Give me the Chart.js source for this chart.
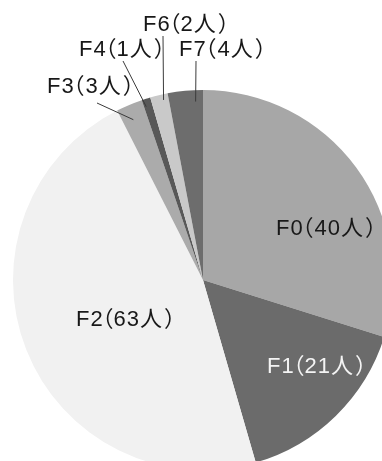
<!DOCTYPE html>
<html>
<head>
<meta charset="utf-8">
<script src="https://cdn.jsdelivr.net/npm/chart.js@4"></script>
<style>
  html, body { margin: 0; padding: 0; background: #fff; overflow: hidden; }
  #wrap { position: relative; width: 400px; height: 480px; }
</style>
</head>
<body>
<div id="wrap"><canvas id="pie"></canvas></div>
<script>
// Patient counts per fibrosis stage
const stages = ['F0', 'F1', 'F2', 'F3', 'F4', 'F6', 'F7'];
const counts = [40, 21, 63, 3, 1, 2, 4];
const unit = '人';

const sliceColors = ['#a7a7a7', '#6b6b6b', '#f1f1f1', '#ababab', '#585858', '#c9c9c9', '#6d6d6d'];

// Label placement: left ink edge and baseline of each label, plus an optional leader line.
// Leader lines run from a point under the label to a point inside the slice,
// given as a fraction along the slice's angle (t) and of the radius (r).
const labelLayout = [
  { x: 277, y: 235, color: '#181818' },
  { x: 268, y: 373, color: '#f4f4f4' },
  { x: 77,  y: 326, color: '#181818' },
  { x: 48,  y: 93,  color: '#181818', from: [97, 103],  t: 0.42, r: 0.92 },
  { x: 80,  y: 56,  color: '#181818', from: [123, 61],  t: 0.25, r: 0.96 },
  { x: 144, y: 31,  color: '#181818', from: [163, 36],  t: 0.70, r: 0.97 },
  { x: 180, y: 56,  color: '#181818', from: [196, 61],  t: 0.78, r: 0.94 }
];

// Draws "F0（40人）" piece by piece so the brackets sit snugly against the text.
function drawLabel(ctx, stage, count, x, baseline) {
  const pieces = [
    { text: stage, gap: 0 },
    { text: '（', gap: 4 },
    { text: count + unit, gap: 2 },
    { text: '）', gap: 3 }
  ];
  let cursor = x;
  pieces.forEach(p => {
    const m = ctx.measureText(p.text);
    const drawX = cursor + p.gap + m.actualBoundingBoxLeft;
    ctx.fillText(p.text, drawX, baseline);
    cursor = drawX + m.actualBoundingBoxRight;
  });
}

const sliceLabels = {
  id: 'sliceLabels',
  afterDatasetsDraw(chart) {
    const ctx = chart.ctx;
    const arcs = chart.getDatasetMeta(0).data;
    ctx.save();
    ctx.font = '22px "Liberation Sans", "Noto Sans CJK JP", sans-serif';
    ctx.letterSpacing = '1px';
    ctx.textAlign = 'left';
    ctx.textBaseline = 'alphabetic';
    arcs.forEach((arc, i) => {
      const lay = labelLayout[i];
      if (lay.from) {
        const { x, y, startAngle, endAngle, outerRadius } = arc.getProps(['x', 'y', 'startAngle', 'endAngle', 'outerRadius'], true);
        const a = startAngle + lay.t * (endAngle - startAngle);
        const px = x + Math.cos(a) * outerRadius * lay.r;
        const py = y + Math.sin(a) * outerRadius * lay.r;
        ctx.strokeStyle = '#3a3a3a';
        ctx.lineWidth = 1;
        ctx.beginPath();
        ctx.moveTo(lay.from[0], lay.from[1]);
        ctx.lineTo(px, py);
        ctx.stroke();
      }
      ctx.fillStyle = lay.color;
      drawLabel(ctx, stages[i], counts[i], lay.x, lay.y);
    });
    ctx.restore();
  }
};

new Chart(document.getElementById('pie'), {
  type: 'pie',
  data: {
    labels: stages,
    datasets: [{
      data: counts,
      backgroundColor: sliceColors,
      borderWidth: 0,
      hoverOffset: 0
    }]
  },
  options: {
    responsive: true,
    maintainAspectRatio: false,
    animation: false,
    radius: 190,
    layout: { padding: { left: 13, right: 7, top: 90, bottom: 10 } },
    plugins: {
      legend: { display: false },
      tooltip: { enabled: false }
    },
    events: []
  },
  plugins: [sliceLabels]
});
</script>
</body>
</html>
